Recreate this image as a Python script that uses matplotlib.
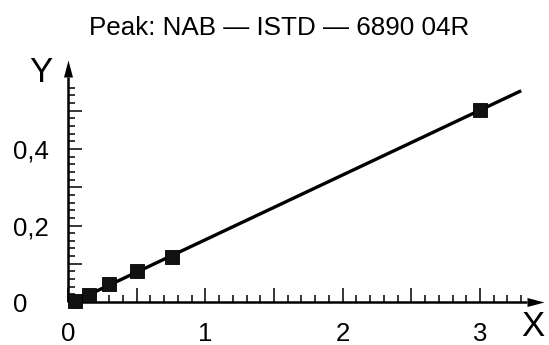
import numpy as np
import matplotlib
matplotlib.use("Agg")
import matplotlib.pyplot as plt
from matplotlib.ticker import FixedLocator, FuncFormatter

plt.rcParams['font.family'] = ['Liberation Sans', 'DejaVu Sans']

# data
x_vals = [0.048, 0.155, 0.30, 0.50, 0.755, 3.0]
y_vals = [0.002, 0.018, 0.046, 0.081, 0.117, 0.502]
fit_x_range = [0.05, 3.3]
x_tick_labels = ["0", "1", "2", "3"]
y_tick_labels = ["0", "0,2", "0,4"]
title = "Peak: NAB \u2014 ISTD \u2014 6890 04R"

W, H = 549, 345
fig = plt.figure(figsize=(W / 100, H / 100), dpi=100)
ax = fig.add_axes([68 / W, 43 / H, 458.7 / W, 224.9 / H])
ax.set_xlim(0, 3.34)
ax.set_ylim(0, 0.588)

for s in ['top', 'right']:
    ax.spines[s].set_visible(False)
for s in ['left', 'bottom']:
    ax.spines[s].set_linewidth(1.8)
    ax.spines[s].set_capstyle('butt')

# fit line
coef = np.polyfit(x_vals, y_vals, 1)
fx = np.array(fit_x_range)
ax.plot(fx, np.polyval(coef, fx), color='black', lw=2.4, solid_capstyle='butt', clip_on=False, zorder=3)
ax.plot(x_vals, y_vals, 's', color='#111111', ms=9.4, mec='black', mew=0.6, clip_on=False, zorder=4)

# ticks
ax.xaxis.set_major_locator(FixedLocator(np.arange(0, 3.01, 0.5)))
ax.xaxis.set_minor_locator(FixedLocator(np.arange(0, 3.31, 0.1)))
ax.xaxis.set_major_formatter(FuncFormatter(lambda v, p: x_tick_labels[int(round(v))] if abs(v - round(v)) < 1e-6 else ""))
ax.yaxis.set_major_locator(FixedLocator(np.arange(0, 0.561, 0.1)))
ax.yaxis.set_minor_locator(FixedLocator(np.arange(0, 0.561, 0.02)))
ax.yaxis.set_major_formatter(FuncFormatter(lambda v, p: y_tick_labels[int(round(v / 0.2))] if abs(v / 0.2 - round(v / 0.2)) < 1e-6 else ""))

ax.tick_params(axis='both', which='major', direction='in', length=10, width=1.1, labelsize=18.5, color='black')
ax.tick_params(axis='both', which='minor', direction='in', length=5, width=1.1, color='black')
ax.tick_params(axis='x', which='major', pad=14.5)
ax.tick_params(axis='y', which='major', pad=39.5)
for lbl in ax.get_yticklabels():
    lbl.set_horizontalalignment('left')

# arrow heads
arrow_up = [(-4.5, 0), (4.5, 0), (0, 17), (-4.5, 0)]
arrow_right = [(0, -4.5), (0, 4.5), (17, 0), (0, -4.5)]
ax.plot([0], [1], marker=arrow_up, ms=24.5, color='black', mew=0, transform=ax.transAxes, clip_on=False)
ax.plot([1], [0], marker=arrow_right, ms=24.5, color='black', mew=0, transform=ax.transAxes, clip_on=False)

fig.text(279 / W, 1 - 35 / H, title, ha='center', va='baseline', fontsize=18.7)
fig.text(41 / W, 1 - 72 / H, "Y", ha='center', va='center', fontsize=25)
fig.text(533 / W, 1 - 327 / H, "X", ha='center', va='center', fontsize=25)

fig.savefig("out.png", dpi=100)
